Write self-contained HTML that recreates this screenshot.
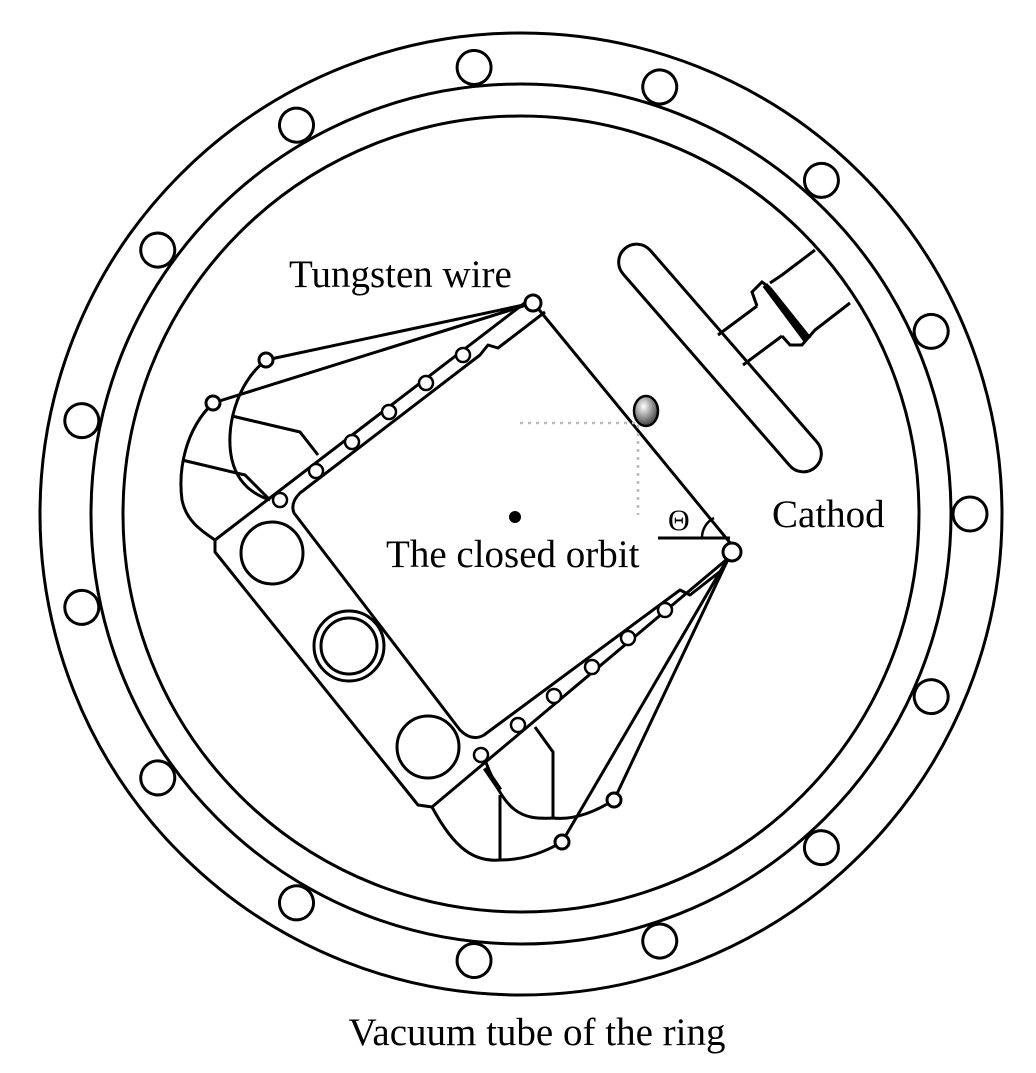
<!DOCTYPE html>
<html><head><meta charset="utf-8"><style>
html,body{margin:0;padding:0;background:#fff;}
svg{display:block;}
text{font-family:"Liberation Serif",serif;fill:#000;}
</style></head><body>
<svg width="1036" height="1073" viewBox="0 0 1036 1073" xmlns="http://www.w3.org/2000/svg">
<defs>
<radialGradient id="g" cx="0.4" cy="0.35" r="0.7">
<stop offset="0" stop-color="#fff"/><stop offset="0.5" stop-color="#999"/><stop offset="1" stop-color="#333"/>
</radialGradient>
</defs>
<g fill="none" stroke="#000" stroke-width="3">
<circle cx="521" cy="514" r="481"/>
<circle cx="521" cy="514" r="430"/>
<circle cx="521" cy="514" r="398"/>
</g>
<g fill="#fff" stroke="#000" stroke-width="3">
<circle cx="970" cy="514" r="17" transform="rotate(0 521 514)"/>
<circle cx="970" cy="514" r="17" transform="rotate(24 521 514)"/>
<circle cx="970" cy="514" r="17" transform="rotate(48 521 514)"/>
<circle cx="970" cy="514" r="17" transform="rotate(72 521 514)"/>
<circle cx="970" cy="514" r="17" transform="rotate(96 521 514)"/>
<circle cx="970" cy="514" r="17" transform="rotate(120 521 514)"/>
<circle cx="970" cy="514" r="17" transform="rotate(144 521 514)"/>
<circle cx="970" cy="514" r="17" transform="rotate(168 521 514)"/>
<circle cx="970" cy="514" r="17" transform="rotate(192 521 514)"/>
<circle cx="970" cy="514" r="17" transform="rotate(216 521 514)"/>
<circle cx="970" cy="514" r="17" transform="rotate(240 521 514)"/>
<circle cx="970" cy="514" r="17" transform="rotate(264 521 514)"/>
<circle cx="970" cy="514" r="17" transform="rotate(288 521 514)"/>
<circle cx="970" cy="514" r="17" transform="rotate(312 521 514)"/>
<circle cx="970" cy="514" r="17" transform="rotate(336 521 514)"/>
</g>

<!-- cathode -->
<g fill="none" stroke="#000" stroke-width="3">
<rect x="575" y="340" width="290" height="36" rx="18" transform="rotate(49 720 358)" fill="#fff"/>
<path d="M718 335 L757 306 M743 365 L782 336"/>
<path d="M757 306 L752 292 L762 282 L770 288 M782 336 L790 345 L802 345 L808 338"/>
<path d="M770 288 L810 338"/>
<path d="M770 283 L782 275 L815 250 M808 338 L815 330 L850 303"/>
</g>
<line x1="765" y1="285" x2="806" y2="340" stroke="#000" stroke-width="6"/>

<!-- frame -->
<g fill="none" stroke="#000" stroke-width="3" stroke-linejoin="round">
<path d="M536 306 L731 544"/>
<path d="M526 302 L215 540 L215 552 L418 805 L432 807 L726 560"/>
<path d="M545 312 L498 348 L488 345 L480 355 L300 493 Q290 503 294 513 L460 730 Q472 742 484 735 L680 590 L690 595 L722 570"/>
<circle cx="272" cy="553" r="31"/>
<circle cx="349" cy="646" r="35"/>
<circle cx="349" cy="646" r="28"/>
<circle cx="428" cy="747" r="31"/>
</g>
<g fill="#fff" stroke="#000" stroke-width="2.5">
<circle cx="280" cy="500" r="7"/><circle cx="316" cy="471" r="7"/><circle cx="352" cy="442" r="7"/>
<circle cx="389" cy="412" r="7"/><circle cx="426" cy="383" r="7"/><circle cx="463" cy="355" r="7"/>
<circle cx="481" cy="755" r="7"/><circle cx="518" cy="725" r="7"/><circle cx="554" cy="696" r="7"/>
<circle cx="592" cy="667" r="7"/><circle cx="628" cy="638" r="7"/><circle cx="665" cy="610" r="7"/>
</g>

<g fill="none" stroke="#000" stroke-width="3">
<path d="M533 303 L266 360 M533 303 L213 403"/>
<path d="M266 360 C235 385 225 430 232 460 C238 485 255 495 270 500"/>
<path d="M213 403 C185 430 178 470 182 500 C186 520 200 530 215 540"/>
<path d="M232 416 L300 432 L318 455 M182 460 L245 475 L270 500"/>
<path d="M731 553 L614 800 M731 553 L562 842"/>
<path d="M614 800 C590 815 570 820 553 818 C520 820 505 812 485 760"/>
<path d="M562 842 C540 855 520 860 500 860 C475 862 455 850 432 807"/>
<path d="M535 727 L553 752 L553 818 M500 795 L500 860"/>
</g>
<line x1="485" y1="768" x2="500" y2="790" stroke="#000" stroke-width="5"/>
<g fill="#fff" stroke="#000" stroke-width="3">
<circle cx="533" cy="303" r="8"/>
<circle cx="266" cy="360" r="7"/><circle cx="213" cy="403" r="7"/>
<circle cx="732" cy="552" r="9"/>
<circle cx="614" cy="800" r="7"/><circle cx="562" cy="842" r="7"/>
</g>

<path d="M520 423 L640 423 M638 425 L638 515" stroke="#bbb" stroke-width="2.5" stroke-dasharray="3 5" fill="none"/>
<ellipse cx="646" cy="411" rx="12" ry="15" fill="url(#g)" stroke="#000" stroke-width="2.5"/>
<circle cx="515" cy="517" r="6" fill="#000"/>
<path d="M658 538 L730 538" stroke="#000" stroke-width="3"/>
<path d="M702 538 A 22 22 0 0 1 714 518" fill="none" stroke="#000" stroke-width="2.5"/>

<text x="289" y="287" font-size="39">Tungsten wire</text>
<text x="772" y="527" font-size="39">Cathod</text>
<text x="668" y="530" font-size="30">Θ</text>
<text x="386" y="567" font-size="39">The closed orbit</text>
<text x="537" y="1045" font-size="39" text-anchor="middle">Vacuum tube of the ring</text>
</svg>
</body></html>
